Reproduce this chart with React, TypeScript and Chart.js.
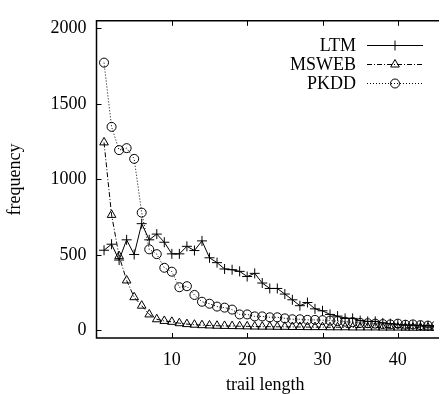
import React, { useEffect, useRef } from "react";
import { Chart, registerables } from "chart.js";

Chart.register(...registerables);

const trailLength = [
  1, 2, 3, 4, 5, 6, 7, 8, 9, 10, 11, 12, 13, 14, 15, 16, 17, 18, 19, 20, 21, 22, 23,
  24, 25, 26, 27, 28, 29, 30, 31, 32, 33, 34, 35, 36, 37, 38, 39, 40, 41, 42, 43, 44, 45,
];
const ltm = [
  531, 571, 466, 600, 503, 707, 600, 638, 584, 507, 507, 557, 529, 593, 481, 449, 407, 402,
  391, 357, 378, 314, 278, 278, 241, 203, 164, 185, 143, 130, 106, 95, 80, 80, 65, 60, 60, 50,
  45, 40, 35, 35, 30, 30, 30,
];
const msweb = [
  1245, 765, 492, 331, 220, 164, 106, 74, 63, 57, 48, 42, 38, 35, 33, 31, 30, 29, 28, 27, 26,
  25, 25, 24, 24, 23, 23, 22, 22, 22, 21, 21, 21, 20, 20, 20, 20, 19, 19, 19, 18, 18, 18, 18, 17,
];
const pkdd = [
  1773, 1348, 1194, 1207, 1136, 780, 537, 505, 415, 389, 286, 293, 235, 190, 177, 158, 151, 138,
  106, 106, 93, 93, 87, 87, 80, 74, 74, 70, 70, 68, 65, 62, 58, 55, 50, 48, 45, 42, 40, 45, 38,
  40, 35, 32, 30,
];
const seriesNames = ["LTM", "MSWEB", "PKDD"];
const yTicks = [0, 500, 1000, 1500, 2000];
const xTicks = [10, 20, 30, 40];

const FONT = '"Liberation Serif", "Times New Roman", serif';

function drawMarker(ctx: CanvasRenderingContext2D, style: string, x: number, y: number, r: number) {
  ctx.beginPath();
  if (style === "cross") {
    ctx.moveTo(x - r, y);
    ctx.lineTo(x + r, y);
    ctx.moveTo(x, y - r);
    ctx.lineTo(x, y + r);
  } else if (style === "triangle") {
    const w = (r * Math.sqrt(3)) / 2;
    ctx.moveTo(x, y - r);
    ctx.lineTo(x + w, y + r / 2);
    ctx.lineTo(x - w, y + r / 2);
    ctx.closePath();
  } else {
    ctx.arc(x, y, r, 0, Math.PI * 2);
  }
  ctx.stroke();
}

const framePlugin = {
  id: "frame",
  beforeDatasetsDraw(chart: any) {
    const { ctx, chartArea, scales } = chart;
    const { left, right, top, bottom } = chartArea;
    ctx.save();
    ctx.strokeStyle = "#000";
    ctx.lineWidth = 1.5;
    ctx.setLineDash([]);
    ctx.beginPath();
    ctx.moveTo(right + 5, top);
    ctx.lineTo(left, top);
    ctx.lineTo(left, bottom);
    ctx.lineTo(right + 5, bottom);
    ctx.stroke();
    ctx.lineWidth = 1;
    ctx.beginPath();
    for (const v of yTicks) {
      const py = Math.round(scales.y.getPixelForValue(v)) + 0.5;
      ctx.moveTo(left, py);
      ctx.lineTo(left + 5, py);
    }
    for (const v of xTicks) {
      const px = Math.round(scales.x.getPixelForValue(v)) + 0.5;
      ctx.moveTo(px, bottom);
      ctx.lineTo(px, bottom - 5);
      ctx.moveTo(px, top);
      ctx.lineTo(px, top + 5);
    }
    ctx.stroke();
    ctx.restore();
  },
};

const keyPlugin = {
  id: "key",
  afterDatasetsDraw(chart: any) {
    const { ctx } = chart;
    const rows = [45, 64, 83];
    ctx.save();
    chart.data.datasets.forEach((ds: any, i: number) => {
      const yy = rows[i];
      ctx.fillStyle = "#000";
      ctx.font = `18px ${FONT}`;
      ctx.textAlign = "right";
      ctx.textBaseline = "middle";
      ctx.fillText(ds.label, 356, yy + 1);
      ctx.strokeStyle = "#000";
      ctx.lineWidth = 1;
      ctx.setLineDash(ds.borderDash || []);
      ctx.beginPath();
      ctx.moveTo(367, yy + 0.5);
      ctx.lineTo(423, yy + 0.5);
      ctx.stroke();
      ctx.setLineDash([]);
      drawMarker(ctx, ds.pointStyle, 395, yy + 0.5, ds.pointRadius);
    });
    ctx.restore();
  },
};

export default function App() {
  const ref = useRef<HTMLCanvasElement | null>(null);
  useEffect(() => {
    if (!ref.current) return;
    const mk = (vals: number[]) => trailLength.map((x, i) => ({ x, y: vals[i] }));
    const chart = new Chart(ref.current, {
      type: "line",
      data: {
        datasets: [
          {
            label: seriesNames[0],
            data: mk(ltm),
            borderColor: "#000",
            borderWidth: 1,
            pointStyle: "cross",
            pointRadius: 5,
            pointBorderColor: "#000",
            pointBorderWidth: 1,
            fill: false,
            tension: 0,
          },
          {
            label: seriesNames[1],
            data: mk(msweb),
            borderColor: "#000",
            borderWidth: 1,
            borderDash: [5, 2, 1, 2],
            pointStyle: "triangle",
            pointRadius: 5,
            pointBorderColor: "#000",
            pointBackgroundColor: "rgba(0,0,0,0)",
            pointBorderWidth: 1,
            fill: false,
            tension: 0,
          },
          {
            label: seriesNames[2],
            data: mk(pkdd),
            borderColor: "#000",
            borderWidth: 1,
            borderDash: [1, 2],
            pointStyle: "circle",
            pointRadius: 4.5,
            pointBorderColor: "#000",
            pointBackgroundColor: "rgba(0,0,0,0)",
            pointBorderWidth: 1,
            fill: false,
            tension: 0,
          },
        ],
      } as any,
      options: {
        animation: false,
        responsive: false,
        maintainAspectRatio: false,
        layout: { padding: { top: 13, right: 0, left: 0, bottom: 0 } },
        plugins: { legend: { display: false }, tooltip: { enabled: false } },
        scales: {
          x: {
            type: "linear",
            min: 0,
            max: 44.8,
            grid: { display: false, drawTicks: false, tickLength: 0 },
            border: { display: false },
            afterBuildTicks: (s: any) => {
              s.ticks = xTicks.map((v) => ({ value: v }));
            },
            afterFit: (s: any) => {
              s.height = 56;
            },
            ticks: {
              color: "#000",
              font: { family: FONT, size: 18 },
              padding: 11,
              maxRotation: 0,
              callback: (v: any) => String(v),
            },
            title: {
              display: true,
              text: "trail length",
              color: "#000",
              font: { family: FONT, size: 18, lineHeight: 1 },
              padding: 0,
            },
          },
          y: {
            type: "linear",
            min: -50,
            max: 2050,
            grid: { display: false, drawTicks: false, tickLength: 0 },
            border: { display: false },
            afterBuildTicks: (s: any) => {
              s.ticks = yTicks.map((v) => ({ value: v }));
            },
            afterFit: (s: any) => {
              s.width = 96.5;
            },
            ticks: {
              color: "#000",
              font: { family: FONT, size: 18 },
              padding: 10,
              callback: (v: any) => String(v),
            },
            title: {
              display: true,
              text: "frequency",
              color: "#000",
              font: { family: FONT, size: 18, lineHeight: 1 },
              padding: { top: 6, bottom: 0 },
            },
          },
        },
      } as any,
      plugins: [framePlugin, keyPlugin],
    });
    return () => chart.destroy();
  }, []);
  return (
    <div style={{ position: "fixed", left: 0, top: 0, width: 440, height: 394, background: "#fff" }}>
      <canvas ref={ref} width={440} height={394} style={{ display: "block", width: 440, height: 394 }} />
    </div>
  );
}
